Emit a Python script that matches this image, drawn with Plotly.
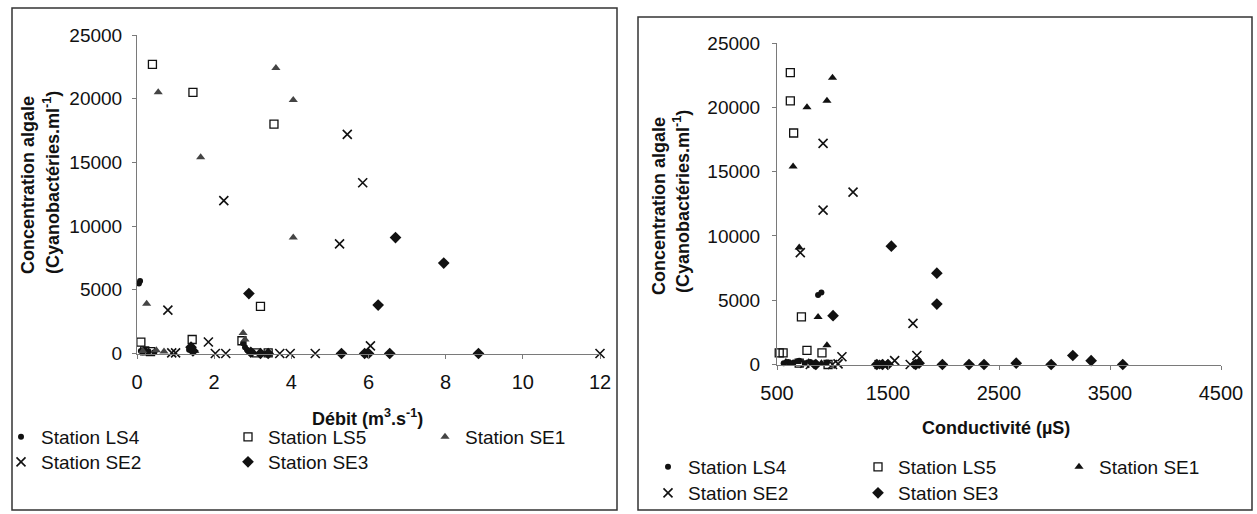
import plotly.graph_objects as go

W, H = 1257, 514

# ---------------- data: left panel (Débit, m3/s) ----------------
q_ls4 = [0.05, 0.08, 0.1, 0.15, 0.2, 0.3, 0.45, 1.35, 1.45, 2.75, 2.8, 2.85, 3.0]
c_ls4_q = [5500, 5700, 200, 100, 300, 150, 100, 300, 150, 800, 500, 300, 100]

q_ls5 = [0.4, 1.45, 3.55, 3.2, 0.1, 1.43, 2.72, 3.1, 3.4, 0.2, 0.35]
c_ls5_q = [22700, 20500, 18000, 3700, 900, 1100, 1000, 50, 50, 200, 150]

q_se1 = [0.55, 1.65, 3.6, 4.05, 4.05, 0.25, 2.75, 2.8, 0.15, 0.5, 0.7, 1.5]
c_se1_q = [20500, 15400, 22400, 19900, 9100, 3900, 1600, 1100, 200, 250, 150, 200]

q_se2 = [5.45, 5.85, 5.25, 2.25, 0.8, 0.9, 1.85, 2.03, 2.3, 3.7, 3.97, 4.62, 6.05, 12.0, 1.0]
c_se2_q = [17200, 13400, 8600, 12000, 3400, 50, 900, 0, 0, 0, 0, 0, 600, 0, 50]

q_se3 = [6.7, 7.95, 6.25, 2.9, 5.3, 5.9, 6.0, 6.55, 8.85, 2.95, 3.2, 3.4, 1.4, 1.45]
c_se3_q = [9100, 7100, 3800, 4700, 0, 0, 0, 0, 0, 100, 0, 0, 500, 200]

# ---------------- data: right panel (Conductivité, µS) ----------------
k_ls4 = [870, 900, 560, 600, 650, 700, 750, 800, 850, 950]
c_ls4_k = [5400, 5600, 100, 200, 150, 300, 100, 200, 100, 150]

k_ls5 = [620, 620, 650, 720, 520, 555, 770, 905, 960, 700]
c_ls5_k = [22700, 20500, 18000, 3700, 900, 900, 1100, 900, 0, 100]

k_se1 = [1000, 950, 770, 645, 700, 870, 950, 580, 620, 680, 900]
c_se1_k = [22300, 20500, 20000, 15400, 9100, 3700, 1500, 200, 100, 200, 100]

k_se2 = [915, 1185, 915, 710, 1725, 1085, 1560, 1760, 1420, 1460, 750, 800, 1000, 1050, 1700]
c_se2_k = [17200, 13400, 12000, 8700, 3200, 600, 300, 700, 0, 0, 100, 0, 0, 50, 0]

k_se3 = [1530, 1940, 1940, 1005, 1990, 2230, 2365, 2655, 2970, 3165, 3330, 3615,
         1400, 1450, 1500, 1750, 1780, 850]
c_se3_k = [9200, 7100, 4700, 3800, 0, 0, 0, 100, 0, 700, 300, 0, 0, 0, 0, 0, 100, 0]

station_names = ["Station LS4", "Station LS5", "Station SE1", "Station SE2", "Station SE3"]
y_title_1 = "Concentration algale"
y_title_2 = "(Cyanobactéries.ml<sup>-1</sup>)"
x_title_left = "Débit (m<sup>3</sup>.s<sup>-1</sup>)"
x_title_right = "Conductivité (µS)"

FONT = "Liberation Sans, Arial, sans-serif"


def fx(p):
    return p / W


def fy(p):
    return 1 - p / H


styles = [
    dict(symbol="circle", size=6, color="#111111"),
    dict(symbol="square-open", size=8, color="#111111", line=dict(width=1.3, color="#111111")),
    dict(symbol="triangle-up", size=8, color="#444444"),
    dict(symbol="x-thin-open", size=9, color="#111111", line=dict(width=1.6, color="#111111")),
    dict(symbol="diamond", size=9, color="#111111"),
]
styles_right = [dict(s) for s in styles]
styles_right[2] = dict(symbol="triangle-up", size=8, color="#111111")

left_sets = [(q_ls4, c_ls4_q), (q_ls5, c_ls5_q), (q_se1, c_se1_q), (q_se2, c_se2_q), (q_se3, c_se3_q)]
right_sets = [(k_ls4, c_ls4_k), (k_ls5, c_ls5_k), (k_se1, c_se1_k), (k_se2, c_se2_k), (k_se3, c_se3_k)]

fig = go.Figure()

# legend box left edge (pixel) and center y
left_leg = [(1, 437), (228, 437), (425, 437), (1, 462), (228, 462)]
right_leg = [(648, 467), (858, 467), (1059, 467), (648, 493), (858, 493)]

legends = {}
n = 0
for i, (xs, ys) in enumerate(left_sets):
    n += 1
    lname = "legend" if n == 1 else f"legend{n}"
    fig.add_trace(go.Scatter(x=xs, y=ys, mode="markers", name=station_names[i],
                             marker=styles[i], xaxis="x", yaxis="y", legend=lname,
                             showlegend=True, cliponaxis=False, hoverinfo="skip"))
    legends[lname] = left_leg[i]
for i, (xs, ys) in enumerate(right_sets):
    n += 1
    lname = f"legend{n}"
    fig.add_trace(go.Scatter(x=xs, y=ys, mode="markers", name=station_names[i],
                             marker=styles_right[i], xaxis="x2", yaxis="y2", legend=lname,
                             showlegend=True, cliponaxis=False, hoverinfo="skip"))
    legends[lname] = right_leg[i]

axis_common = dict(showline=True, linecolor="#7a7a7a", linewidth=1, ticks="outside",
                   ticklen=4, tickcolor="#7a7a7a", showgrid=False, zeroline=False,
                   tickformat="d", automargin=False)
yfont = dict(family=FONT, size=19, color="#111111")
xfont = dict(family=FONT, size=20, color="#111111")


def ann(text, x, y, angle=0):
    return dict(text=f"<b>{text}</b>", x=fx(x), y=fy(y), xref="paper", yref="paper",
                xanchor="center", yanchor="middle", textangle=angle, showarrow=False,
                font=dict(family=FONT, size=18, color="#111111"))


layout = dict(
    width=W, height=H,
    showlegend=True,
    margin=dict(l=0, r=0, t=0, b=0, autoexpand=False),
    paper_bgcolor="white", plot_bgcolor="white",
    font=dict(family=FONT, color="#111111"),
    xaxis=dict(domain=[fx(137), fx(600)], range=[0, 12], dtick=2, anchor="y",
               ticklabelstandoff=6, tickfont=xfont, **axis_common),
    yaxis=dict(domain=[fy(353.5), fy(35)], range=[0, 25000], dtick=5000, anchor="x",
               ticklabelstandoff=6, tickfont=yfont, **axis_common),
    xaxis2=dict(domain=[fx(777), fx(1221)], range=[500, 4500], tick0=500, dtick=1000, anchor="y2",
                ticklabelstandoff=6, tickfont=xfont, **axis_common),
    yaxis2=dict(domain=[fy(364.5), fy(43)], range=[0, 25000], dtick=5000, anchor="x2",
                ticklabelstandoff=8, tickfont=yfont, **axis_common),
    shapes=[
        dict(type="rect", xref="paper", yref="paper", x0=fx(12), x1=fx(617), y0=fy(510), y1=fy(8),
             line=dict(color="#333333", width=1.5)),
        dict(type="rect", xref="paper", yref="paper", x0=fx(638), x1=fx(1252), y0=fy(510), y1=fy(17),
             line=dict(color="#333333", width=1.5)),
    ],
    annotations=[
        ann(y_title_1, 28, 185, -90),
        ann(y_title_2, 51, 183, -90),
        ann(y_title_1, 659, 206, -90),
        ann(y_title_2, 682, 202, -90),
        ann(x_title_left, 367, 417),
        ann(x_title_right, 996, 428),
    ],
)

for lname, (lx, ly) in legends.items():
    layout[lname] = dict(x=fx(lx), y=fy(ly), xanchor="left", yanchor="middle",
                         orientation="v", bgcolor="rgba(0,0,0,0)", visible=True,
                         font=dict(family=FONT, size=19, color="#111111"))

fig.update_layout(**layout)
fig.write_html("out.html", config={"displayModeBar": False},
               post_script="document.body.style.margin='0';document.body.style.padding='0';")
